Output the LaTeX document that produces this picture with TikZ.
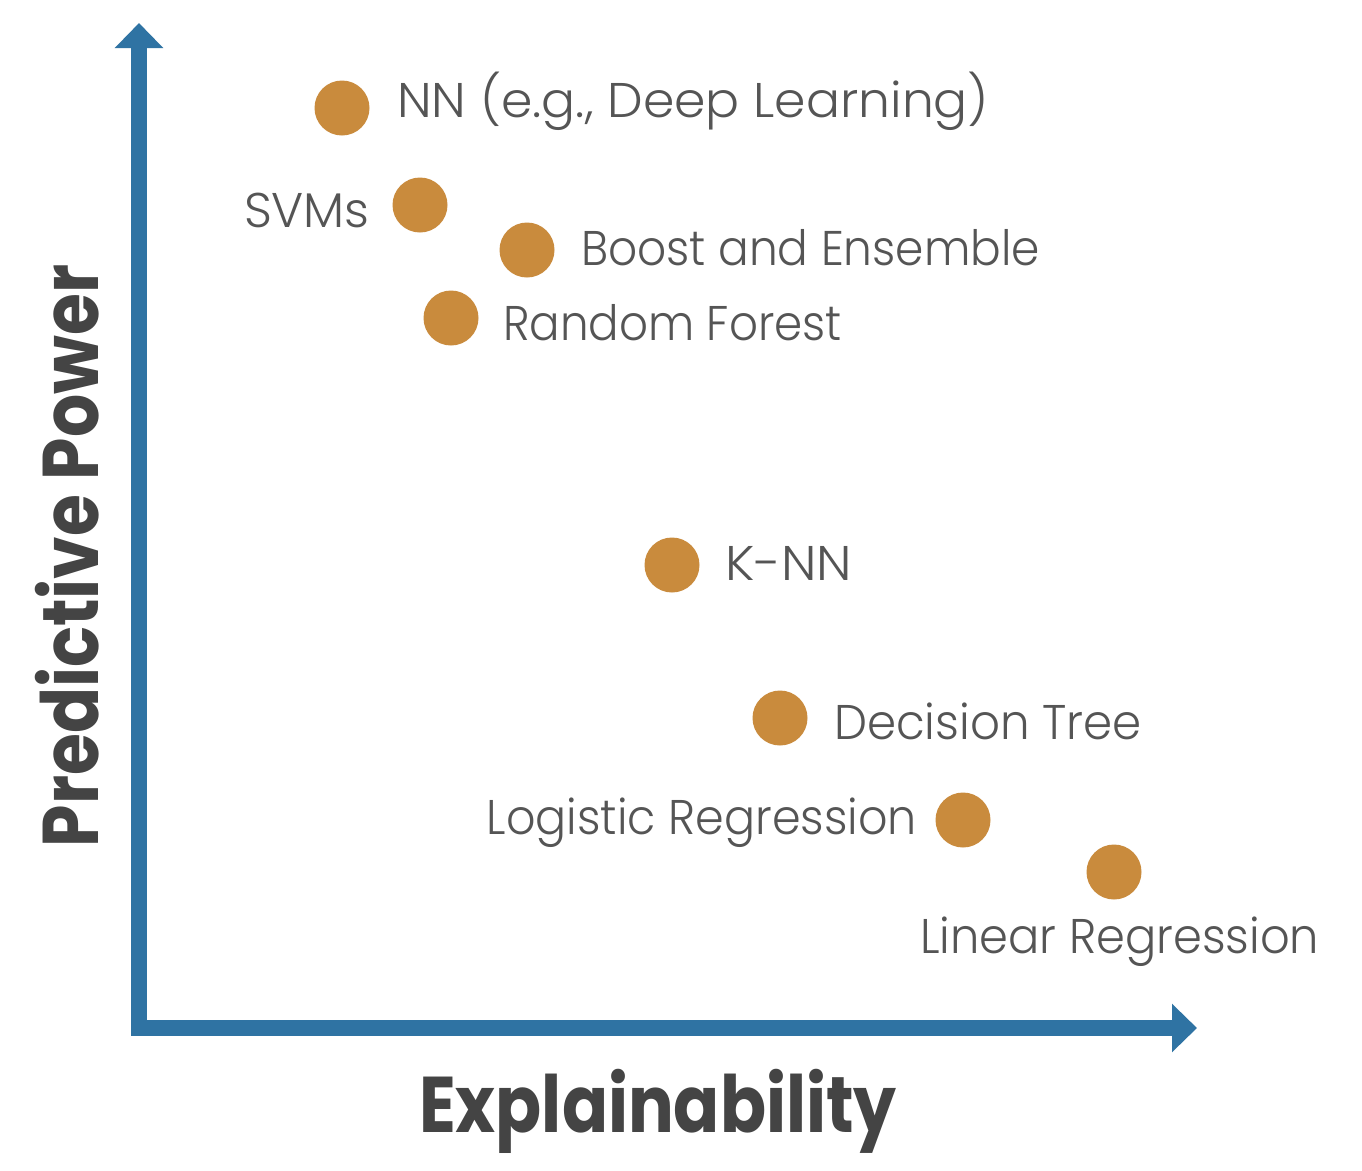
\documentclass[tikz,border=0pt]{standalone}
\usepackage{fontspec}
\usetikzlibrary{arrows.meta}
\newfontfamily\lblfont{Poppins Light}
\newfontfamily\ttlfont{Poppins}
\definecolor{axisblue}{RGB}{47,115,163}
\definecolor{dotorange}{RGB}{201,139,61}
\definecolor{lblgray}{RGB}{85,85,85}
\definecolor{ttlgray}{RGB}{68,68,68}
\tikzset{
  axisline/.style={draw=axisblue, line width=16pt, line join=miter,
    {Triangle[length=25pt,width=47pt]}-{Triangle[length=25pt,width=47pt]}},
  dot/.style={circle, fill=dotorange, minimum size=55pt, inner sep=0pt},
  lbl/.style={inner sep=0pt, text=lblgray, font=\lblfont\fontsize{48.7}{50}\selectfont},
  ttl/.style={inner sep=0pt, text=ttlgray, font=\ttlfont\bfseries\fontsize{79}{80}\selectfont},
}
\begin{document}
\begin{tikzpicture}[x=1pt,y=-1pt]
\useasboundingbox[fill=white] (0,0) rectangle (1362,1170);
\coordinate (ytip) at (139,23);
\coordinate (origin) at (139,1028);
\coordinate (xtip) at (1197,1028);
\draw[axisline] (ytip) -- (origin) -- (xtip);

\node[dot] (dNN) at (342,108) {};
\node[dot] (dSVM) at (420,205) {};
\node[dot] (dBoost) at (527,250) {};
\node[dot] (dRF) at (451,318) {};
\node[dot] (dKNN) at (672,565) {};
\node[dot] (dDT) at (780,718) {};
\node[dot] (dLog) at (963,820) {};
\node[dot] (dLin) at (1114,872) {};

\node[lbl, anchor=base west, xscale=1.035] (tNN) at (397,117) {NN (e.g., Deep Learning)};
\node[lbl, anchor=base east] (tSVM) at (370,227) {SVMs};
\node[lbl, anchor=base west, xscale=0.933] (tBoost) at (581,265) {Boost and Ensemble};
\node[lbl, anchor=base west, xscale=0.928] (tRF) at (503,340) {Random Forest};
\node[lbl, anchor=base west, xscale=1.06] (tKNN) at (725,580) {K-NN};
\node[lbl, anchor=base west, xscale=0.96] (tDT) at (834,739) {Decision Tree};
\node[lbl, anchor=base east, xscale=0.945] (tLog) at (917,834) {Logistic Regression};
\node[lbl, anchor=base west, xscale=0.952] (tLin) at (920,953) {Linear Regression};

\node[ttl, anchor=base, xscale=0.86] (tX) at (658,1132) {Explainability};
\node[ttl, anchor=base, rotate=90, xscale=0.86] (tY) at (98,556) {Predictive Power};
\end{tikzpicture}
\end{document}
